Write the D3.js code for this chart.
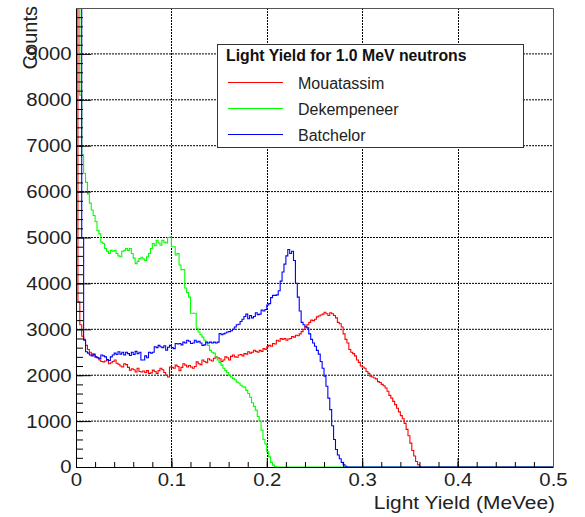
<!DOCTYPE html>
<html>
<head>
<meta charset="utf-8">
<script src="https://cdn.jsdelivr.net/npm/d3@7"></script>
<style>
  body { margin: 0; background: #fff; }
  text { font-family: "Liberation Sans", Arial, Helvetica, sans-serif; }
</style>
</head>
<body>
<script>

// histogram binning (MeVee)
var binLow = 0;
var binWidth = 0.002;

// counts per bin, bins past the end of each array are empty
var mouatassim = [
  15000, 3600, 3100, 2850, 2780, 2650, 2560, 2500, 2460, 2440,
  2400, 2380, 2330, 2300, 2290, 2310, 2330, 2250, 2270, 2300,
  2330, 2260, 2240, 2200, 2180, 2250, 2230, 2170, 2110, 2140,
  2120, 2070, 2150, 2080, 2070, 2090, 2060, 2100, 2040, 2050,
  2110, 2080, 2040, 2100, 2150, 2120, 2060, 2000, 1960, 2180,
  2170, 2150, 2220, 2190, 2100, 2170, 2250, 2220, 2180, 2210,
  2180, 2150, 2190, 2290, 2250, 2230, 2330, 2300, 2270, 2360,
  2330, 2310, 2370, 2400, 2380, 2360, 2300, 2330, 2400, 2380,
  2330, 2410, 2440, 2400, 2390, 2440, 2450, 2420, 2470, 2460,
  2510, 2480, 2500, 2545, 2520, 2500, 2540, 2520, 2580, 2560,
  2620, 2650, 2630, 2690, 2680, 2760, 2740, 2800, 2780, 2800,
  2760, 2790, 2800, 2840, 2830, 2870, 2860, 2900, 2950, 3000,
  3060, 3100, 3150, 3200, 3190, 3220, 3270, 3290, 3310, 3330,
  3370, 3340, 3300, 3360, 3340, 3300, 3250, 3150, 3120, 3050,
  2900, 2780, 2700, 2560, 2500, 2470, 2420, 2330, 2280, 2200,
  2180, 2150, 2080, 2040, 1980, 1960, 1940, 1920, 1860, 1840,
  1800, 1770, 1720, 1650, 1560, 1500, 1430, 1360, 1280, 1200,
  1120, 1050, 950, 820, 680, 520, 360, 240, 120, 50,
  10
];

var dekempeneer = [
  15000, 15000, 8100, 6800, 6400, 6200, 5950, 5750, 5600, 5480,
  5350, 5150, 5080, 4900, 4870, 4760, 4700, 4650, 4720, 4700,
  4720, 4650, 4600, 4580, 4700, 4720, 4760, 4720, 4760, 4650,
  4550, 4430, 4480, 4540, 4570, 4530, 4500, 4580, 4650, 4760,
  4870, 4820, 4940, 4880, 4830, 4940, 4900, 4880, 5000, 5010,
  4800, 4800, 4620, 4650, 4400, 4300, 4300, 3900, 3800, 3700,
  3350, 3350, 3350, 3020, 2940, 2880, 2830, 2760, 2700, 2650,
  2540, 2500, 2480, 2400, 2330, 2280, 2220, 2150, 2100, 2060,
  2000, 1960, 1930, 1900, 1850, 1830, 1780, 1750, 1740, 1670,
  1600, 1520, 1400, 1320, 1240, 1100, 1000, 800, 600, 500,
  330, 220, 100, 40, 10
];

var batchelor = [
  15000, 15000, 15000, 5000, 2760, 2510, 2480, 2440, 2420, 2460,
  2400, 2380, 2360, 2440, 2420, 2400, 2340, 2320, 2400, 2440,
  2480, 2450, 2510, 2460, 2500, 2440, 2500, 2470, 2430, 2500,
  2450, 2520, 2470, 2500, 2330, 2330, 2420, 2380, 2500, 2480,
  2500, 2620, 2600, 2650, 2620, 2600, 2640, 2545, 2610, 2650,
  2600, 2580, 2690, 2680, 2690, 2660, 2720, 2700, 2760, 2740,
  2690, 2700, 2760, 2720, 2740, 2700, 2650, 2660, 2720, 2700,
  2720, 2700, 2720, 2700, 2720, 2910, 2880, 2900, 2920, 2940,
  2950, 2970, 3000, 3050, 3100, 3110, 3170, 3220, 3280, 3330,
  3230, 3300, 3250, 3280, 3360, 3320, 3330, 3420, 3400, 3430,
  3530, 3560, 3690, 3740, 3740, 3750, 3840, 4050, 4250, 4420,
  4600, 4740, 4650, 4700, 4500, 4000, 3700, 3400, 3150, 3100,
  3050, 3030, 2900, 2780, 2700, 2630, 2540, 2460, 2300, 2150,
  1980, 1760, 1500, 1250, 900, 600, 380, 260, 180, 100,
  50, 15
];

var seriesNames = ['Mouatassim', 'Dekempeneer', 'Batchelor'];
var seriesColors = ['#ff0000', '#00ff00', '#0000ff'];
var seriesData = [mouatassim, dekempeneer, batchelor];

var xTicks = [0, 0.1, 0.2, 0.3, 0.4, 0.5];
var yTicks = [0, 1000, 2000, 3000, 4000, 5000, 6000, 7000, 8000, 9000];
var xDomain = [0, 0.5];
var yDomain = [0, 10000];

var legendTitle = 'Light Yield for 1.0 MeV neutrons';
var xTitle = 'Light Yield (MeVee)';
var yTitle = 'Counts';


var width = 585, height = 517;
var frame = { left: 76, right: 553, top: 8, bottom: 467 };

var svg = d3.select('body').append('svg')
    .attr('width', width)
    .attr('height', height);

var x = d3.scaleLinear().domain(xDomain).range([frame.left, frame.right]);
var y = d3.scaleLinear().domain(yDomain).range([frame.bottom, frame.top]);

svg.append('clipPath').attr('id', 'frameclip')
  .append('rect')
    .attr('x', frame.left)
    .attr('y', frame.top)
    .attr('width', frame.right - frame.left)
    .attr('height', frame.bottom - frame.top);

// dotted grid
var grid = svg.append('g').attr('stroke', '#000').attr('stroke-dasharray', '2,1');

grid.selectAll('.gx')
    .data(xTicks.filter(function(d) { return d > xDomain[0] && d < xDomain[1]; }))
  .enter().append('line')
    .attr('x1', function(d) { return Math.round(x(d)) + 0.5; })
    .attr('x2', function(d) { return Math.round(x(d)) + 0.5; })
    .attr('y1', frame.top)
    .attr('y2', frame.bottom);

grid.selectAll('.gy')
    .data(yTicks.filter(function(d) { return d > yDomain[0]; }))
  .enter().append('line')
    .attr('x1', frame.left)
    .attr('x2', frame.right)
    .attr('y1', function(d) { return y(d); })
    .attr('y2', function(d) { return y(d); });

// histograms
var line = d3.line()
    .x(function(d) { return x(d[0]); })
    .y(function(d) { return y(d[1]); })
    .curve(d3.curveStepAfter);

function histPoints(values) {
    var pts = values.map(function(v, i) { return [binLow + i * binWidth, v]; });
    pts.push([binLow + values.length * binWidth, 0]);
    pts.push([xDomain[1], 0]);
    return pts;
}

var hists = svg.append('g').attr('clip-path', 'url(#frameclip)');

seriesData.forEach(function(values, i) {
    hists.append('path')
        .attr('d', line(histPoints(values)))
        .attr('fill', 'none')
        .attr('stroke', seriesColors[i])
        .attr('stroke-width', 1.1);
});

// axes, ticks pointing inside the frame
var xMinor = d3.range(0, 0.5001, 0.02);
var yMinor = d3.range(0, 10001, 200);

function noLabels(g) { g.selectAll('text').remove(); g.select('.domain').remove(); }

svg.append('g')
    .attr('transform', 'translate(0,' + frame.bottom + ')')
    .call(d3.axisBottom(x).tickValues(xMinor).tickSizeInner(-5).tickSizeOuter(0))
    .call(noLabels);

svg.append('g')
    .attr('transform', 'translate(' + frame.left + ',0)')
    .call(d3.axisLeft(y).tickValues(yMinor).tickSizeInner(-7).tickSizeOuter(0))
    .call(noLabels);

var xAxis = svg.append('g')
    .attr('transform', 'translate(0,' + frame.bottom + ')')
    .call(d3.axisBottom(x).tickValues(xTicks).tickSizeInner(-9).tickSizeOuter(0).tickPadding(6)
        .tickFormat(function(d) { return d === 0 ? '0' : d3.format('.1f')(d); }));

var yAxis = svg.append('g')
    .attr('transform', 'translate(' + frame.left + ',0)')
    .call(d3.axisLeft(y).tickValues(yTicks).tickSizeInner(-15).tickSizeOuter(0).tickPadding(4)
        .tickFormat(d3.format('d')));

[xAxis, yAxis].forEach(function(ax) {
    ax.selectAll('text')
        .attr('font-size', 18.5)
        .attr('fill', '#222')
        .attr('transform', 'scale(1.1,1)');
    ax.selectAll('line').attr('stroke', '#000');
    ax.select('.domain').attr('stroke', '#000');
});

// top and right sides of the frame
svg.append('path')
    .attr('d', 'M' + frame.left + ',' + (frame.top + 0.5) + 'H' + (frame.right + 0.5) + 'V' + frame.bottom)
    .attr('fill', 'none')
    .attr('stroke', '#555');

// axis titles
svg.append('text')
    .attr('transform', 'translate(' + (frame.right + 2) + ',509) scale(1.1,1)')
    .attr('text-anchor', 'end')
    .attr('font-size', 19)
    .attr('fill', '#222')
    .text(xTitle);

svg.append('text')
    .attr('transform', 'translate(37,6) rotate(-90)')
    .attr('text-anchor', 'end')
    .attr('font-size', 20)
    .attr('fill', '#222')
    .text(yTitle);

// legend
var legend = svg.append('g');

legend.append('rect')
    .attr('x', 217.5).attr('y', 44.5)
    .attr('width', 306).attr('height', 103)
    .attr('fill', '#fff')
    .attr('stroke', '#333');

legend.append('text')
    .attr('x', 226).attr('y', 61)
    .attr('font-size', 15.8)
    .attr('font-weight', 'bold')
    .attr('fill', '#111')
    .text(legendTitle);

var entryY = [82.5, 108.5, 134.5];

seriesNames.forEach(function(name, i) {
    legend.append('line')
        .attr('x1', 228).attr('x2', 283)
        .attr('y1', entryY[i]).attr('y2', entryY[i])
        .attr('stroke', seriesColors[i])
        .attr('stroke-width', 1.1);
    legend.append('text')
        .attr('x', 298).attr('y', entryY[i] + 6)
        .attr('font-size', 16)
        .attr('fill', '#222')
        .text(name);
});

</script>
</body>
</html>
